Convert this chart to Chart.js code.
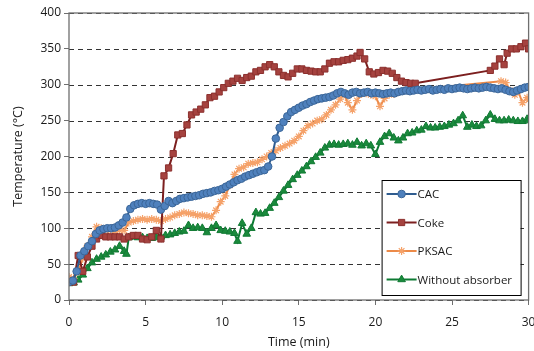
<!DOCTYPE html>
<html>
<head>
<meta charset="utf-8">
<script src="https://cdn.jsdelivr.net/npm/chart.js@4"></script>
<style>
  html, body { margin: 0; padding: 0; background: #fff; }
  #wrap { width: 534px; height: 351px; }
</style>
</head>
<body>
<div id="wrap"><canvas id="c" width="534" height="351"></canvas></div>
<script>
// data (time in min, temperature in °C)
const cacTime = [0, 0.25, 0.5, 0.75, 1, 1.25, 1.5, 1.75, 2, 2.25, 2.5, 2.75, 3, 3.25, 3.5, 3.75,
  4, 4.25, 4.5, 4.75, 5, 5.25, 5.5, 5.75, 6, 6.25, 6.5, 6.75, 7, 7.25, 7.5, 7.75,
  8, 8.25, 8.5, 8.75, 9, 9.25, 9.5, 9.75, 10, 10.25, 10.5, 10.75, 11, 11.25, 11.5, 11.75,
  12, 12.25, 12.5, 12.75, 13, 13.25, 13.5, 13.75, 14, 14.25, 14.5, 14.75, 15, 15.25, 15.5, 15.75,
  16, 16.25, 16.5, 16.75, 17, 17.25, 17.5, 17.75, 18, 18.25, 18.5, 18.75, 19, 19.25, 19.5, 19.75,
  20, 20.25, 20.5, 20.75, 21, 21.25, 21.5, 21.75, 22, 22.25, 22.5, 22.75, 23, 23.25, 23.5, 23.75,
  24, 24.25, 24.5, 24.75, 25, 25.25, 25.5, 25.75, 26, 26.25, 26.5, 26.75, 27, 27.25, 27.5, 27.75,
  28, 28.25, 28.5, 28.75, 29, 29.25, 29.5, 29.75, 30];
const cacTemp = [25, 27, 40, 62, 68, 75, 82, 92, 97, 99, 100, 100, 101, 104, 108, 115,
  127, 132, 134, 135, 134, 135, 134, 133, 126, 131, 138, 135, 138, 141, 142, 143,
  144, 145, 146, 148, 149, 150, 152, 153, 155, 158, 161, 164, 167, 169, 172, 174,
  176, 178, 180, 181, 186, 200, 225, 240, 248, 256, 262, 265, 268, 271, 273, 276,
  278, 280, 281, 282, 283, 285, 288, 290, 288, 286, 289, 290, 288, 289, 290, 288,
  289, 288, 287, 288, 289, 288, 290, 291, 292, 291, 292, 293, 292, 293, 294, 292,
  293, 294, 293, 295, 294, 295, 296, 295, 294, 295, 296, 295, 296, 297, 296, 295,
  294, 295, 293, 291, 290, 292, 294, 296, 297];

const cokeTime = [0, 0.3, 0.6, 0.9, 1.2, 1.5, 1.8, 2.1, 2.4, 2.7, 3, 3.3, 3.6, 3.9, 4.2, 4.5,
  4.8, 5.1, 5.4, 5.7, 6, 6.2, 6.5, 6.8, 7.1, 7.4, 7.7, 8, 8.3, 8.6, 8.9, 9.2,
  9.5, 9.8, 10.1, 10.4, 10.7, 11, 11.3, 11.6, 11.9, 12.2, 12.5, 12.8, 13.1, 13.4, 13.7, 14,
  14.3, 14.6, 14.9, 15.2, 15.5, 15.8, 16.1, 16.4, 16.7, 17, 17.3, 17.6, 17.9, 18.2, 18.5, 18.8,
  19, 19.3, 19.6, 19.9, 20.2, 20.5, 20.8, 21.1, 21.4, 21.7, 22, 22.3, 22.6,
  27.5, 27.8, 28.1, 28.4, 28.6, 28.9, 29.2, 29.5, 29.8, 30];
const cokeTemp = [25, 25, 62, 40, 60, 75, 85, 90, 88, 88, 88, 88, 85, 88, 90, 90,
  85, 84, 88, 97, 85, 173, 184, 204, 230, 232, 244, 258, 262, 266, 272, 282,
  284, 290, 296, 302, 305, 309, 306, 310, 312, 318, 320, 325, 328, 325, 318, 313,
  311, 316, 322, 322, 320, 319, 318, 318, 322, 330, 332, 332, 334, 335, 337, 340,
  345, 336, 318, 315, 317, 320, 319, 316, 310, 305, 303, 302, 302,
  320, 326, 336, 328, 344, 350, 350, 353, 358, 350];

const pksacTime = [0, 0.3, 0.6, 0.9, 1.2, 1.5, 1.8, 2.1, 2.4, 2.7, 3, 3.3, 3.6, 3.9, 4.2, 4.5,
  4.8, 5.1, 5.4, 5.7, 6, 6.3, 6.6, 6.9, 7.2, 7.5, 7.8, 8.1, 8.4, 8.7, 9, 9.3,
  9.6, 9.9, 10.2, 10.5, 10.8, 11.1, 11.4, 11.7, 12, 12.3, 12.6, 12.9, 13.2, 13.5, 13.8, 14.1,
  14.4, 14.7, 15, 15.3, 15.6, 15.9, 16.2, 16.5, 16.8, 17.1, 17.4, 17.7, 17.95, 18.2, 18.5, 18.8,
  19.1, 19.4, 19.7, 20, 20.3, 20.6, 20.9, 21.2, 21.5, 22.5, 28.2, 28.5, 28.8, 29.1, 29.3, 29.6,
  29.9, 30];
const pksacTemp = [32, 30, 40, 58, 75, 88, 102, 100, 97, 97, 96, 97, 97, 108, 110, 112,
  113, 112, 113, 112, 110, 113, 115, 118, 120, 122, 121, 120, 118, 118, 117, 116,
  125, 137, 145, 160, 175, 183, 185, 190, 191, 192, 196, 200, 205, 208, 212, 215,
  218, 222, 228, 236, 243, 246, 250, 252, 258, 265, 272, 280, 287, 275, 265, 278,
  287, 288, 286, 284, 270, 281, 286, 287, 290, 293, 305, 303, 292, 286, 292, 275,
  282, 279];

const noneTime = [0, 0.3, 0.6, 0.9, 1.2, 1.5, 1.8, 2.1, 2.4, 2.7, 3, 3.3, 3.6, 3.75, 3.9, 4.2,
  4.5, 4.8, 5.1, 5.4, 5.7, 6, 6.3, 6.6, 6.9, 7.2, 7.5, 7.8, 8.1, 8.4, 8.7, 9,
  9.3, 9.6, 9.9, 10.2, 10.5, 10.8, 11, 11.3, 11.6, 11.9, 12.2, 12.5, 12.8, 13.1, 13.4, 13.7,
  14, 14.3, 14.6, 14.9, 15.2, 15.5, 15.8, 16.1, 16.4, 16.7, 17, 17.3, 17.6, 17.9, 18.2, 18.5,
  18.8, 19.1, 19.4, 19.7, 20, 20.3, 20.6, 20.9, 21.2, 21.5, 21.8, 22.1, 22.4, 22.7, 23, 23.3,
  23.6, 23.9, 24.2, 24.5, 24.8, 25.1, 25.4, 25.7, 26, 26.3, 26.6, 26.9, 27.2, 27.5, 27.8, 28.1,
  28.4, 28.7, 29, 29.3, 29.6, 29.9, 30];
const noneTemp = [23, 24, 28, 35, 44, 52, 57, 60, 63, 67, 70, 75, 68, 64, 87, 88,
  87, 87, 86, 86, 87, 88, 90, 91, 93, 95, 96, 104, 100, 101, 100, 94,
  100, 104, 97, 96, 95, 93, 82, 107, 92, 100, 122, 120, 121, 128, 135, 143,
  152, 160, 168, 174, 180, 186, 193, 199, 205, 212, 216, 217, 216, 217, 218, 216,
  220, 215, 218, 215, 203, 220, 228, 232, 226, 222, 226, 232, 233, 236, 237, 242,
  240, 240, 241, 242, 244, 246, 250, 257, 241, 244, 242, 243, 250, 258, 252, 250,
  250, 251, 250, 249, 249, 252, 250];

const seriesNames = ['CAC', 'Coke', 'PKSAC', 'Without absorber'];
const xTicks = [0, 5, 10, 15, 20, 25, 30];
const yTicks = [0, 50, 100, 150, 200, 250, 300, 350, 400];

function pts(t, v) {
  return t.map((x, i) => ({ x: x, y: v[i] }));
}

const FONT = 'Open Sans';
const TXT = '#1a1a1a';

// dashed horizontal gridlines, under the data
const gridPlugin = {
  id: 'dashGrid',
  beforeDatasetsDraw(chart) {
    const { ctx, chartArea: a, scales: { y } } = chart;
    ctx.save();
    ctx.strokeStyle = '#333';
    ctx.lineWidth = 1;
    ctx.setLineDash([5, 4]);
    yTicks.forEach(v => {
      const py = Math.round(y.getPixelForValue(v)) + 0.5;
      ctx.beginPath();
      ctx.moveTo(a.left, py);
      ctx.lineTo(a.right, py);
      ctx.stroke();
    });
    ctx.restore();
  }
};

// plot frame + legend box drawn inside the plot area
const framePlugin = {
  id: 'frame',
  afterDatasetsDraw(chart) {
    const { ctx, chartArea: a } = chart;
    ctx.save();
    ctx.strokeStyle = '#6f6f6f';
    ctx.lineWidth = 1.3;
    ctx.strokeRect(a.left, a.top, a.right - a.left, a.bottom - a.top);
    ctx.restore();
  },
  afterDraw(chart) {
    const { ctx, chartArea: a } = chart;
    const w = 139, h = 115;
    const left = a.right - 8 - w, top = a.bottom - 5 - h;
    ctx.save();
    ctx.fillStyle = '#fff';
    ctx.fillRect(left, top, w, h);
    ctx.strokeStyle = '#000';
    ctx.lineWidth = 1;
    ctx.strokeRect(left + 0.5, top + 0.5, w, h);
    ctx.font = '11.5px "' + FONT + '"';
    ctx.textBaseline = 'middle';
    chart.data.datasets.forEach((ds, i) => {
      const y = top + 14 + i * 28.5;
      ctx.strokeStyle = ds.borderColor;
      ctx.lineWidth = ds.borderWidth;
      ctx.beginPath();
      ctx.moveTo(left + 5, y);
      ctx.lineTo(left + 35, y);
      ctx.stroke();
      ctx.fillStyle = ds.pointBackgroundColor;
      ctx.strokeStyle = ds.pointBorderColor;
      ctx.lineWidth = ds.pointBorderWidth;
      Chart.helpers.drawPoint(ctx, {
        pointStyle: ds.pointStyle, radius: ds.pointRadius, rotation: 0, borderWidth: ds.pointBorderWidth
      }, left + 20, y);
      ctx.fillStyle = TXT;
      ctx.fillText(ds.label, left + 36, y + 1);
    });
    ctx.restore();
  }
};

new Chart(document.getElementById('c'), {
  type: 'line',
  data: {
    datasets: [
      {
        label: seriesNames[0],
        data: pts(cacTime, cacTemp),
        borderColor: '#2f5c8f',
        borderWidth: 2,
        pointStyle: 'circle',
        pointRadius: 3.8,
        pointBackgroundColor: '#4f81bd',
        pointBorderColor: '#3b6698',
        pointBorderWidth: 1
      },
      {
        label: seriesNames[1],
        data: pts(cokeTime, cokeTemp),
        borderColor: '#7c1f1f',
        borderWidth: 2,
        pointStyle: 'rect',
        pointRadius: 4.4,
        pointBackgroundColor: '#a5423f',
        pointBorderColor: '#8c302e',
        pointBorderWidth: 1
      },
      {
        label: seriesNames[2],
        data: pts(pksacTime, pksacTemp),
        borderColor: '#ec8a48',
        borderWidth: 2,
        pointStyle: 'star',
        pointRadius: 4,
        pointBackgroundColor: '#f5a26a',
        pointBorderColor: '#f5a26a',
        pointBorderWidth: 1.2
      },
      {
        label: seriesNames[3],
        data: pts(noneTime, noneTemp),
        borderColor: '#0d7a33',
        borderWidth: 2,
        pointStyle: 'triangle',
        pointRadius: 4.4,
        pointBackgroundColor: '#1a8a3c',
        pointBorderColor: '#117a34',
        pointBorderWidth: 1
      }
    ]
  },
  options: {
    responsive: false,
    animation: false,
    layout: { padding: { left: 11, right: 5, top: 13, bottom: 0 } },
    plugins: {
      legend: { display: false },
      tooltip: { enabled: false }
    },
    scales: {
      x: {
        type: 'linear',
        min: 0,
        max: 30,
        afterBuildTicks: s => { s.ticks = xTicks.map(v => ({ value: v })); },
        afterFit: s => { s.height = 51; s.paddingLeft = 0; s.paddingRight = 0; },
        grid: { drawOnChartArea: false, drawTicks: true, tickLength: 5, color: '#6f6f6f' },
        border: { display: false },
        ticks: { color: TXT, font: { family: FONT, size: 12 }, padding: 10, maxRotation: 0 },
        title: { display: true, text: 'Time (min)', color: TXT, font: { family: FONT, size: 12.5 }, padding: { top: 0, bottom: 1 } }
      },
      y: {
        min: 0,
        max: 400,
        afterBuildTicks: s => { s.ticks = yTicks.map(v => ({ value: v })); },
        afterFit: s => { s.width = 58; s.paddingTop = 0; s.paddingBottom = 0; },
        grid: { drawOnChartArea: false, drawTicks: true, tickLength: 5, color: '#6f6f6f' },
        border: { display: false },
        ticks: { color: TXT, font: { family: FONT, size: 12 }, padding: 3 },
        title: { display: true, text: 'Temperature (°C)', color: TXT, font: { family: FONT, size: 12.5 }, padding: { top: 0, bottom: 0 } }
      }
    }
  },
  plugins: [gridPlugin, framePlugin]
});
</script>
</body>
</html>
